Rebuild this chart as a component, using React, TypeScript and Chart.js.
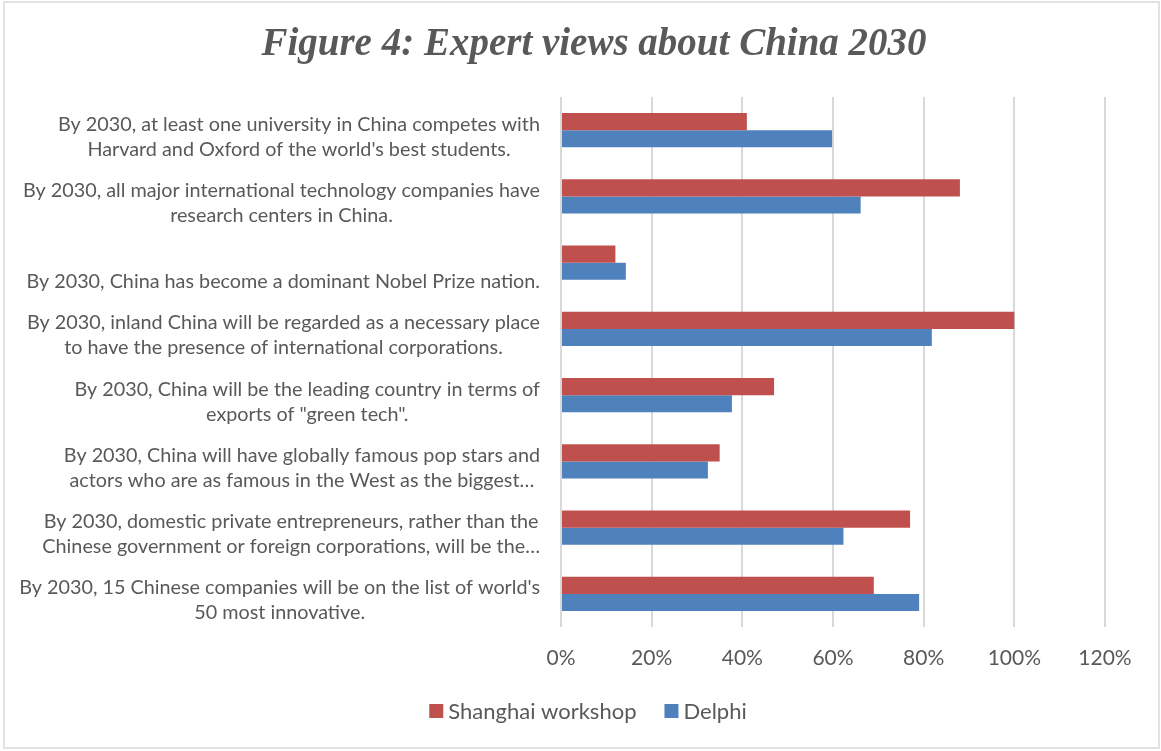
import React, { useEffect, useRef } from "react";
import { Chart, registerables } from "chart.js";

Chart.register(...registerables);

const TITLE = "Figure 4: Expert views about China 2030";

const categories: string[][] = [
  ["By 2030, at least one university in China competes with", "Harvard and Oxford of the world's best students."],
  ["By 2030, all major international technology companies have", "research centers in China."],
  ["By 2030, China has become a dominant Nobel Prize nation."],
  ["By 2030, inland China will be regarded as a necessary place", "to have the presence of international corporations."],
  ["By 2030, China will be the leading country in terms of", "exports of \"green tech\"."],
  ["By 2030, China will have globally famous pop stars and", "actors who are as famous in the West as the biggest…"],
  ["By 2030, domestic private entrepreneurs, rather than the", "Chinese government or foreign corporations, will be the…"],
  ["By 2030, 15 Chinese companies will be on the list of world's", "50 most innovative."],
];

const seriesNames = ["Shanghai workshop", "Delphi"];
const shanghaiValues = [41, 88, 12, 100, 47, 35, 77, 69];
const delphiValues = [59.8, 66.1, 14.3, 81.8, 37.7, 32.4, 62.3, 79];
const xTicks = [0, 20, 40, 60, 80, 100, 120];

const COLORS = ["#C0504D", "#4F81BD"];
const TEXT = "#595959";
const GRID = "#D9D9D9";
const FONT = "Lato, 'Open Sans', sans-serif";

export default function App() {
  const ref = useRef<HTMLCanvasElement | null>(null);

  useEffect(() => {
    document.body.style.margin = "0";
    const canvas = ref.current;
    if (!canvas) return;

    const framePlugin = {
      id: "frame",
      beforeDraw(chart: any) {
        const ctx = chart.ctx;
        ctx.save();
        ctx.fillStyle = "#ffffff";
        ctx.fillRect(0, 0, chart.width, chart.height);
        ctx.strokeStyle = GRID;
        ctx.lineWidth = 1.5;
        ctx.strokeRect(4, 2, chart.width - 6, chart.height - 5);
        ctx.restore();
      },
    };

    const titlePlugin = {
      id: "customTitle",
      afterDraw(chart: any) {
        const ctx = chart.ctx;
        ctx.save();
        ctx.font = "italic bold 39px 'Liberation Serif', 'Times New Roman', serif";
        ctx.fillStyle = TEXT;
        ctx.textAlign = "center";
        ctx.textBaseline = "alphabetic";
        ctx.fillText(TITLE, 594, 55);
        ctx.restore();
      },
    };

    const yLabelPlugin = {
      id: "yLabels",
      afterDraw(chart: any) {
        const ctx = chart.ctx;
        const yScale = chart.scales.y;
        const right = chart.chartArea.left - 21;
        const lh = 25;
        ctx.save();
        ctx.font = "19.8px " + FONT;
        ctx.fillStyle = TEXT;
        ctx.textAlign = "center";
        ctx.textBaseline = "middle";
        categories.forEach((lines, i) => {
          const c = yScale.getPixelForTick(i) + 6.5;
          const w = Math.max(...lines.map((l) => ctx.measureText(l).width));
          const cx = right - w / 2;
          if (lines.length === 1) {
            ctx.fillText(lines[0], cx, c + lh / 2);
          } else {
            lines.forEach((l, k) => ctx.fillText(l, cx, c + (k - 0.5) * lh));
          }
        });
        ctx.restore();
      },
    };

    const legendPlugin = {
      id: "customLegend",
      afterDraw(chart: any) {
        const ctx = chart.ctx;
        ctx.save();
        ctx.font = "22px " + FONT;
        ctx.textBaseline = "middle";
        ctx.textAlign = "left";
        const box = 14;
        const gap = 5;
        const itemGap = 28;
        const widths = seriesNames.map((n) => box + gap + ctx.measureText(n).width);
        const total = widths.reduce((a, b) => a + b, 0) + itemGap * (seriesNames.length - 1);
        let x = 588 - total / 2;
        const y = 711;
        seriesNames.forEach((n, i) => {
          ctx.fillStyle = COLORS[i];
          ctx.fillRect(x, y - box / 2, box, box);
          ctx.fillStyle = TEXT;
          ctx.fillText(n, x + box + gap, y + 1);
          x += widths[i] + itemGap;
        });
        ctx.restore();
      },
    };

    const chart = new Chart(canvas, {
      type: "bar",
      data: {
        labels: categories.map((c) => c.join(" ")),
        datasets: [
          {
            label: seriesNames[0],
            data: shanghaiValues,
            backgroundColor: COLORS[0],
            barPercentage: 1,
            categoryPercentage: 0.52,
          },
          {
            label: seriesNames[1],
            data: delphiValues,
            backgroundColor: COLORS[1],
            barPercentage: 1,
            categoryPercentage: 0.52,
          },
        ],
      },
      options: {
        indexAxis: "y",
        animation: false,
        responsive: false,
        maintainAspectRatio: false,
        layout: { padding: { left: 0, right: 56, top: 97, bottom: 81 } },
        plugins: {
          legend: { display: false },
          tooltip: { enabled: false },
          title: { display: false },
        },
        scales: {
          x: {
            min: 0,
            max: 120,
            afterBuildTicks(scale: any) {
              scale.ticks = xTicks.map((v) => ({ value: v }));
            },
            afterFit(scale: any) {
              scale.height = 43;
            },
            grid: { color: GRID, lineWidth: 2, drawTicks: false },
            border: { display: false },
            ticks: {
              color: TEXT,
              font: { family: FONT, size: 21 },
              padding: 19,
              callback: (v: any) => v + "%",
            },
          },
          y: {
            grid: { display: false, drawTicks: false },
            border: { display: false },
            ticks: { display: false },
            afterFit(scale: any) {
              scale.width = 561;
            },
          },
        },
      },
      plugins: [framePlugin, titlePlugin, yLabelPlugin, legendPlugin],
    });

    return () => chart.destroy();
  }, []);

  return (
    <div style={{ position: "fixed", left: 0, top: 0, width: 1161, height: 751 }}>
      <canvas ref={ref} width={1161} height={751} style={{ width: 1161, height: 751 }} />
    </div>
  );
}
